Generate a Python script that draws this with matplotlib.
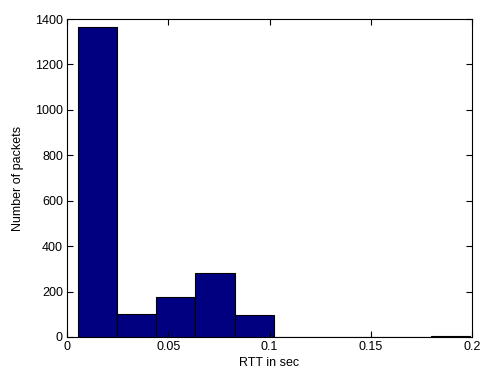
import matplotlib.pyplot as plt
import numpy as np

# histogram of round-trip times (10 equal bins)
rtt_min = 0.0053
rtt_max = 0.1990
counts = [1365, 100, 176, 280, 95, 0, 0, 0, 0, 3]

plt.rcParams['font.family'] = ['Liberation Sans', 'DejaVu Sans']
plt.rcParams['font.size'] = 9

edges = np.linspace(rtt_min, rtt_max, len(counts) + 1)

fig = plt.figure(figsize=(4.83, 3.74), dpi=100)
ax = fig.add_axes([0.139, 0.099, 0.838, 0.85])
ax.bar(edges[:-1], counts, width=np.diff(edges), align='edge',
       color='#000080', edgecolor='black', linewidth=0.8)

ax.set_xlim(0, 0.2)
ax.set_ylim(0, 1400)
ax.set_xticks([0, 0.05, 0.1, 0.15, 0.2])
ax.set_xticklabels(['0', '0.05', '0.1', '0.15', '0.2'])
ax.set_yticks(np.arange(0, 1401, 200))
ax.tick_params(direction='in', top=True, right=True, length=4, width=0.8,
               labelsize=9, colors='black', pad=3)
for s in ax.spines.values():
    s.set_linewidth(0.8)

ax.set_xlabel('RTT in sec', fontsize=9, labelpad=3)
ax.set_ylabel('Number of packets', fontsize=9, labelpad=8)

plt.savefig('out.png', dpi=100)
plt.close()
